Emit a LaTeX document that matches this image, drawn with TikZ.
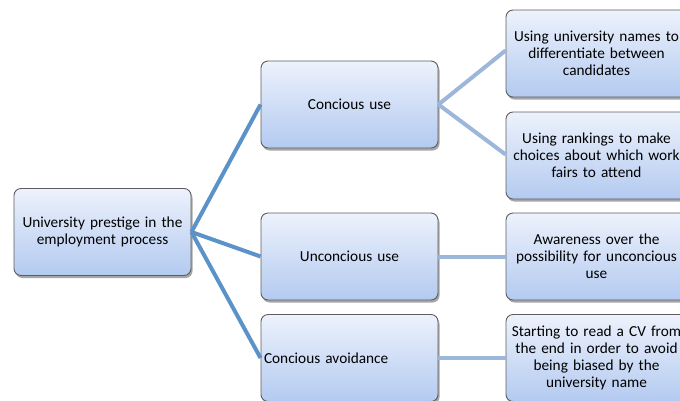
\documentclass[tikz,border=0pt]{standalone}
\usepackage{fontspec}
\setmainfont{Carlito}
\usetikzlibrary{shadows}
\definecolor{boxtop}{HTML}{EDF2FC}
\definecolor{boxbot}{HTML}{B3CAF0}
\definecolor{boxline}{HTML}{5E5E5E}
\definecolor{linkA}{HTML}{5B93C9}
\definecolor{linkB}{HTML}{9DB7DA}
\tikzset{
  mapbox/.style={draw=boxline, line width=0.9pt, rounded corners=7pt,
    top color=boxtop, bottom color=boxbot, minimum height=87pt,
    inner sep=3pt, font=\fontsize{15.3}{17}\selectfont,
    drop shadow={shadow xshift=1.5pt, shadow yshift=-2.5pt, opacity=0.35, fill=black}},
  lvlbox/.style={mapbox, minimum width=177pt, text width=171pt},
  leafbox/.style={mapbox, minimum width=179pt, text width=175pt, align=center},
  linkone/.style={draw=linkA, line width=4pt},
  linktwo/.style={draw=linkB, line width=4pt}
}
\begin{document}
\begin{tikzpicture}[x=1pt,y=-1pt]
\useasboundingbox (0,0) rectangle (680,400);
\node[lvlbox, align=center] (root) at (102.5,232) {University prestige in the\\employment process};
\node[lvlbox, align=center] (c1) at (349.5,104.5) {Concious use};
\node[lvlbox, align=center] (c2) at (349.5,256.5) {Unconcious use};
\node[lvlbox, align=left] (c3) at (349.5,358) {Concious avoidance};
\node[leafbox] (l1) at (596.5,53.5) {Using university names to\\differentiate between\\candidates};
\node[leafbox] (l2) at (596.5,155.5) {Using rankings to make\\choices about which work\\fairs to attend};
\node[leafbox] (l3) at (596.5,256.5) {Awareness over the\\possibility for unconcious\\use};
\node[leafbox] (l4) at (596.5,358) {Starting to read a CV from\\the end in order to avoid\\being biased by the\\university name};
\draw[linkone] (root.east) -- (c1.west);
\draw[linkone] (root.east) -- (c2.west);
\draw[linkone] (root.east) -- (c3.west);
\draw[linktwo] (c1.east) -- ([yshift=3pt]l1.west);
\draw[linktwo] (c1.east) -- ([yshift=1pt]l2.west);
\draw[linktwo] (c2.east) -- (l3.west);
\draw[linktwo] (c3.east) -- (l4.west);
\end{tikzpicture}
\end{document}
